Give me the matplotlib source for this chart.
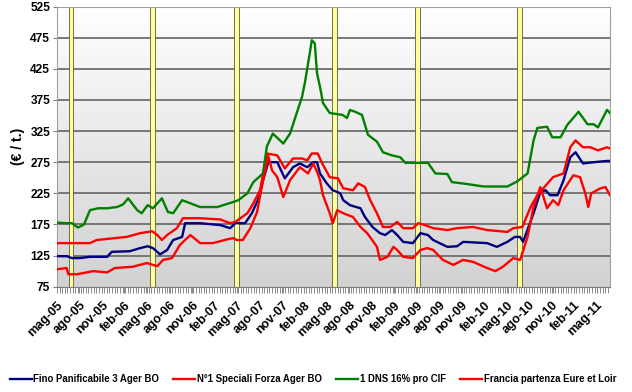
import numpy as np
import matplotlib

matplotlib.use("Agg")
import matplotlib.pyplot as plt
from matplotlib.colors import LinearSegmentedColormap

plt.rcParams["font.family"] = ["Liberation Sans", "DejaVu Sans"]
plt.rcParams["font.weight"] = "bold"

# x = months since 1 May 2005 (tick "mag-05")
green_x = [0, 1.3, 2.0, 2.8, 3.6, 4.4, 5.5, 6.7, 8.0, 8.8, 9.5, 10.7, 11.3, 12.1, 12.8,
           14.0, 14.8, 15.5, 16.7, 19.1, 21.4, 23.5, 24.2, 25.4, 26.2, 27.5, 28.0, 28.8,
           30.2, 31.1, 31.8, 32.7, 33.1, 33.8, 34.0, 34.4, 34.7, 35.1, 35.5, 36.4, 38.1,
           38.7, 39.1, 39.8, 40.7, 41.5, 42.7, 43.5, 44.7, 45.8, 46.5, 49.5, 50.5, 52.1,
           52.7, 54.7, 56.9, 60.1, 61.4, 62.8, 63.6, 64.1, 65.4, 66.1, 67.2, 68.1, 69.6,
           70.8, 71.6, 72.2, 73.4, 73.8]
green_y = [178, 177, 177, 170, 175, 198, 201, 201, 203, 207, 217, 198, 193, 206, 201,
           217, 195, 193, 214, 203, 203, 211, 214, 225, 243, 257, 300, 321,
           305, 321, 347, 380, 404, 455, 471, 466, 418, 396, 370, 354, 351,
           346, 359, 356, 351, 319, 308, 291, 286, 283, 274, 274, 257, 256,
           243, 240, 236, 236, 244, 257, 310, 330, 332, 315, 315, 335, 356,
           336, 336, 331, 359, 354]

blue_x = [0, 1.3, 2.0, 3.1, 4.4, 6.7, 7.3, 9.7, 11.1, 12.1, 12.8, 13.75, 14.7, 15.5, 16.7,
          17.1, 19.1, 21.8, 23.1, 23.8, 25.1, 26.0, 26.8, 27.5, 28.2, 29.4, 30.4, 31.5,
          32.4, 33.4, 34.2, 34.7, 35.1, 36.0, 36.8, 37.8, 38.2, 39.1, 40.5, 41.1, 42.1,
          43.1, 43.8, 44.7, 45.4, 46.2, 47.5, 48.5, 49.5, 50.2, 52.1, 53.4, 54.2, 57.4,
          58.7, 60.1, 61.1, 61.8, 62.2, 63.6, 64.5, 65.2, 65.8, 66.8, 67.6, 68.5, 69.2,
          70.2, 71.6, 73.4, 73.8]
blue_y = [124, 124, 121, 121, 123, 123, 131, 132, 137, 140, 137, 127, 134, 150, 155,
          177, 177, 174, 169, 177, 177, 193, 214, 246, 275, 275, 249, 267,
          273, 267, 275, 275, 257, 241, 230, 225, 214, 206, 201, 187, 171,
          161, 158, 166, 158, 147, 145, 161, 158, 150, 139, 140, 147, 145,
          139, 147, 155, 155, 147, 193, 227, 230, 222, 222, 246, 283, 291,
          273, 275, 277, 277]

red1_x = [0, 2.0, 4.4, 5.3, 9.3, 11.1, 12.7, 13.4, 14.0, 14.7, 16.0, 16.8, 19.1, 21.8,
          23.1, 23.8, 25.4, 26.2, 27.1, 28.0, 29.4, 30.4, 31.5, 32.7, 33.4, 34.0, 34.8,
          35.4, 36.4, 37.5, 38.2, 39.5, 40.2, 41.1, 41.8, 42.7, 43.5, 44.5, 45.4, 46.2,
          47.5, 48.2, 49.1, 50.2, 52.1, 53.4, 55.5, 57.4, 60.1, 60.9, 62.1, 63.2, 64.1,
          66.2, 67.6, 68.5, 69.2, 70.2, 71.2, 72.2, 73.4, 73.8]
red1_y = [145, 145, 145, 150, 155, 161, 164, 158, 150, 158, 169, 185, 185, 183,
          177, 179, 193, 209, 230, 289, 286, 265, 281, 281, 278, 289, 289,
          273, 251, 249, 233, 230, 241, 235, 214, 193, 171, 171, 179, 169,
          169, 177, 174, 169, 166, 169, 171, 166, 163, 169, 171, 203, 222,
          251, 257, 299, 310, 299, 299, 294, 299, 297]

red2_x = [0, 1.3, 1.5, 2.7, 4.8, 6.7, 7.7, 10.1, 12.0, 13.4, 14.15, 15.35, 16.4, 17.8,
          19.1, 20.8, 22.7, 23.5, 24.0, 24.8, 25.8, 26.7, 27.5, 28.2, 28.7, 29.4, 30.2,
          31.1, 32.4, 33.5, 34.2, 34.8, 35.1, 35.5, 36.4, 36.8, 37.4, 38.2, 39.5, 40.5,
          41.4, 42.7, 43.1, 44.1, 44.9, 45.4, 46.2, 47.5, 48.5, 49.4, 50.2, 51.5, 52.9,
          54.2, 55.5, 57.4, 58.5, 59.5, 60.9, 61.8, 62.8, 63.6, 64.5, 65.4, 66.2, 66.9,
          67.6, 68.9, 69.8, 70.5, 70.9, 71.3, 72.5, 73.2, 73.8]
red2_y = [103, 105, 95, 95, 100, 98, 105, 107, 113, 108, 118, 121, 142, 158,
          145, 145, 151, 153, 150, 150, 169, 195, 246, 285, 262, 251, 219,
          246, 267, 257, 273, 257, 246, 222, 193, 177, 198, 193, 187, 171,
          161, 139, 118, 123, 139, 134, 123, 121, 134, 137, 134, 118, 110,
          118, 115, 105, 100, 107, 121, 118, 155, 203, 235, 201, 214, 206,
          230, 254, 251, 225, 203, 225, 233, 235, 222]

harvest_x = [1.87, 12.7, 23.9, 37.0, 48.1, 61.7]

series_names = ["Fino Panificabile 3 Ager BO", "N°1 Speciali Forza Ager BO",
                "1 DNS 16% pro CIF", "Francia partenza Eure et Loir"]
month_names = ["mag", "ago", "nov", "feb"]
y_ticks = list(range(75, 526, 50))

tick_pos = list(range(0, 73, 3))
tick_labels = []
for i, m in enumerate(tick_pos):
    year = 5 + (m + 4) // 12
    tick_labels.append(f"{month_names[i % 4]}-{year:02d}")

fig = plt.figure(figsize=(6.32, 3.92), dpi=100)
ax = fig.add_axes([57 / 632, 1 - 286.7 / 392, (610 - 57) / 632, (286.7 - 6.6) / 392])
x_max = 73.8

# gradient plot-area background
grad = LinearSegmentedColormap.from_list("bg", ["#ffffff", "#d2d2d2"])
ax.imshow(np.linspace(0, 1, 256).reshape(-1, 1), cmap=grad, aspect="auto",
          extent=[0, x_max, 75, 525], origin="upper", zorder=0)

for yv in y_ticks[1:-1]:
    ax.axhline(yv, color="#6e6e6e", linewidth=1.3, zorder=1)

ax.bar(harvest_x, [450] * len(harvest_x), bottom=75, width=0.65, color="#ffff99",
       edgecolor="#5a5a40", linewidth=0.6, zorder=2)

ax.plot(blue_x, blue_y, color="#000080", linewidth=1.7, zorder=3, label=series_names[0])
ax.plot(red1_x, red1_y, color="#ff0000", linewidth=1.7, zorder=3, label=series_names[1])
ax.plot(green_x, green_y, color="#008000", linewidth=1.7, zorder=3, label=series_names[2])
ax.plot(red2_x, red2_y, color="#ff0000", linewidth=1.7, zorder=3, label=series_names[3])

ax.set_xlim(0, x_max)
ax.set_ylim(75, 525)
ax.set_yticks(y_ticks)
ax.set_yticklabels([str(v) for v in y_ticks], fontsize=8.6, fontweight="bold")
ax.set_xticks(tick_pos)
ax.set_xticklabels(tick_labels, fontsize=9, fontweight="bold", rotation=45,
                   ha="right", va="top", rotation_mode="anchor")
ax.set_xticks(np.arange(0, x_max, 0.35), minor=True)
ax.tick_params(axis="x", which="both", length=4, width=0.7, color="#8a8a8a", pad=5)
ax.tick_params(axis="y", length=3, color="#808080", pad=2)
ax.set_ylabel("(€ / t.)", fontsize=10, fontweight="bold", labelpad=4)

for name, spine in ax.spines.items():
    spine.set_color("#a0a0a0")
    spine.set_linewidth(0.8)
ax.spines["bottom"].set_color("#7a7a7a")

fig.legend(loc="lower center", bbox_to_anchor=(0.495, 0.005), ncol=4, frameon=False,
           prop={"size": 6.9, "weight": "bold"}, handlelength=2.3, handletextpad=0.15,
           columnspacing=1.5, borderaxespad=0.2)

fig.savefig("out.png", dpi=100)
